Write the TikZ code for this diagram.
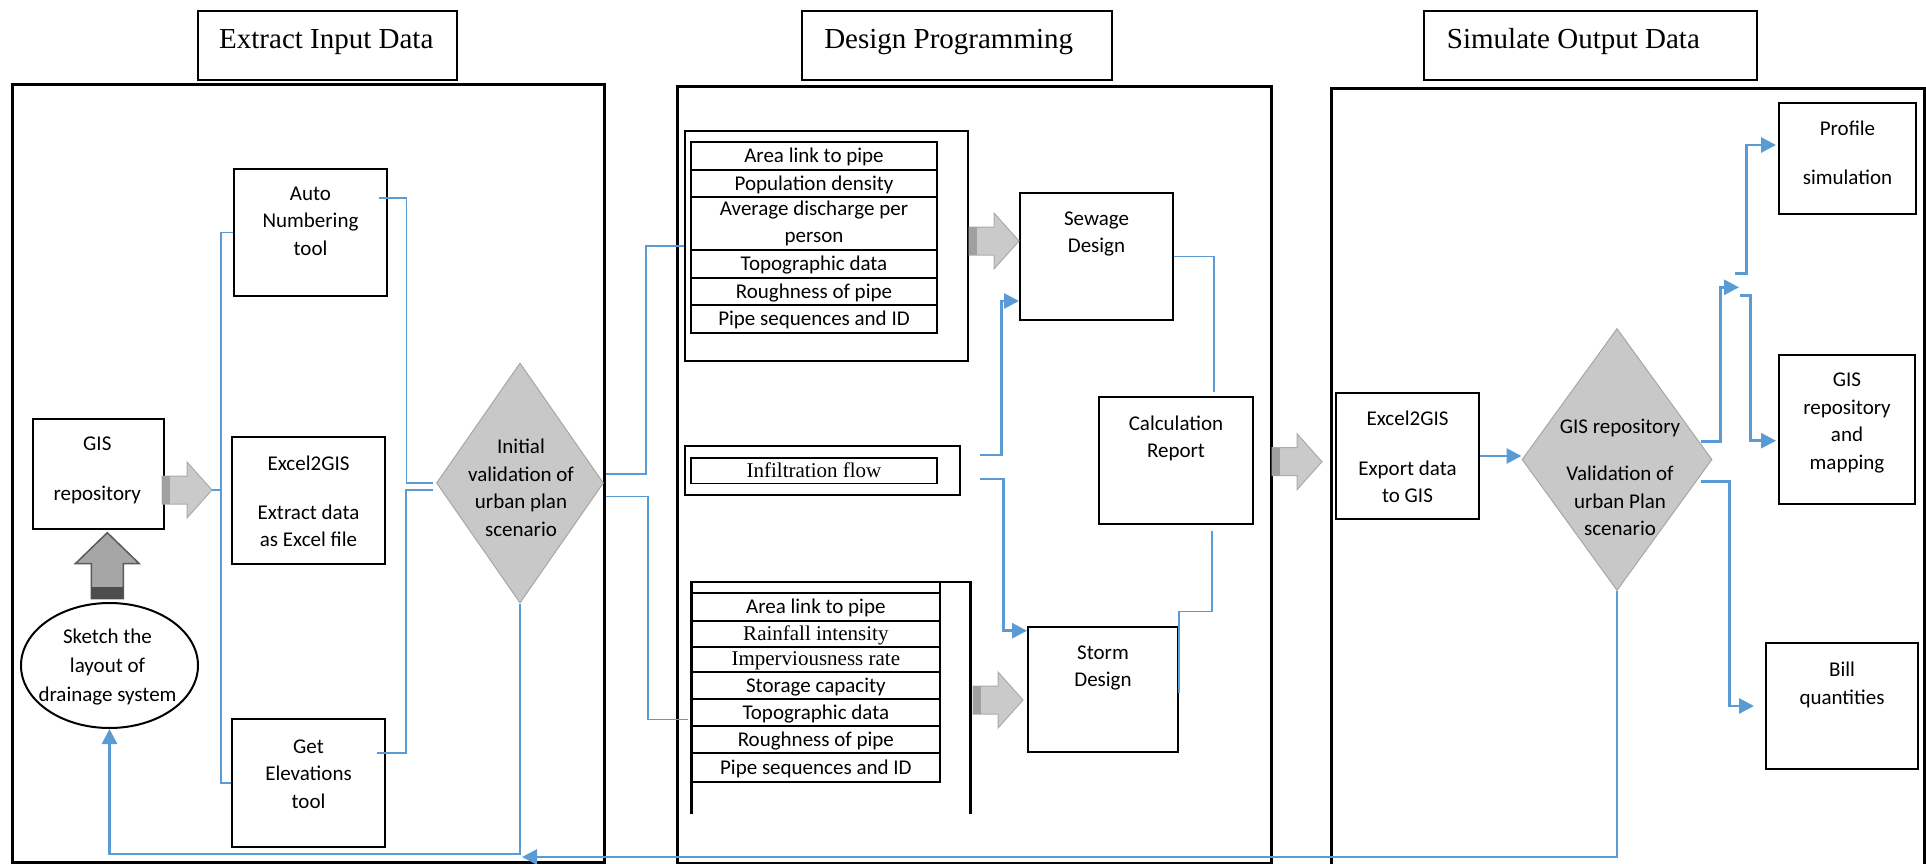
\documentclass[tikz,border=0pt]{standalone}
\usepackage{fontspec}
\setmainfont{Carlito}
\newfontfamily\tnr{Liberation Serif}
\usetikzlibrary{shapes.geometric,arrows.meta,positioning}

\definecolor{linkblue}{HTML}{5B9BD5}
\definecolor{diagrey}{HTML}{C8C8C8}
\definecolor{diaedge}{HTML}{A6A6A6}
\definecolor{blockgrey}{HTML}{CACACA}
\definecolor{blockedge}{HTML}{ABABAB}
\definecolor{stripgrey}{HTML}{A0A0A0}
\definecolor{upgrey}{HTML}{A6A6A6}
\definecolor{upedge}{HTML}{595959}
\definecolor{updark}{HTML}{4D4D4D}

\newcommand{\txtfont}{\fontsize{21}{27.5}\selectfont}
\newcommand{\hdfont}{\tnr\fontsize{29}{35}\selectfont}

\tikzset{
  panel/.style={draw, line width=3pt, inner sep=0pt},
  box/.style={draw, line width=2pt, inner sep=0pt},
  txt/.style={align=center, inner sep=0pt, anchor=north, font=\txtfont, execute at begin node=\strut},
  ttl/.style={inner sep=0pt, anchor=north, font=\hdfont, execute at begin node=\strut},
  cell/.style={draw, line width=2pt, inner sep=0pt, outer sep=0pt, align=center, font=\txtfont, text height=13.5pt, text depth=0pt, minimum height=#1},
  cell/.default=27.5,
  decide/.style={diamond, draw=diaedge, fill=diagrey, line width=1pt, inner sep=0pt},
  link/.style={draw=linkblue, line width=1.2pt},
  flow/.style={draw=linkblue, line width=2.8pt, -{Triangle[length=15pt,width=15pt]}},
  rblock/.pic={
    \path[fill=blockgrey, draw=blockedge, line width=1pt] (0,0) -- (-25,28) -- (-25,14) -- (-50,14) -- (-50,-14) -- (-25,-14) -- (-25,-28) -- cycle;
    \path[fill=stripgrey] (-50,-14) rectangle (-42.5,14);
  },
  ublock/.pic={
    \path[fill=upgrey, draw=upedge, line width=1.5pt] (0,0) -- (32,31) -- (16,31) -- (16,66) -- (-16,66) -- (-16,31) -- (-32,31) -- cycle;
    \path[fill=updark] (-16,54.5) rectangle (16,66);
  }
}

\begin{document}
\begin{tikzpicture}[x=1pt,y=-1pt]
\useasboundingbox (0,0) rectangle (1926,864);

\node[box, minimum width=259, minimum height=69] (title1) at (327.5,45.5) {};
\node[box, minimum width=310, minimum height=69] (title2) at (957,45.5) {};
\node[box, minimum width=333, minimum height=69] (title3) at (1590.5,45.5) {};
\node[ttl] (title1T) at ([shift={(-1.2,13.8)}]title1.north) {Extract Input Data};
\node[ttl] (title2T) at ([shift={(-8.3,13.8)}]title2.north) {Design Programming};
\node[ttl] (title3T) at ([shift={(-17.1,13.8)}]title3.north) {Simulate Output Data};

\node[panel, minimum width=592.5, minimum height=777] (p1) at (308.25,473.5) {};
\node[panel, minimum width=594, minimum height=776] (p2) at (974,475) {};
\node[panel, minimum width=593.5, minimum height=778] (p3) at (1627.75,478) {};

\node[box, minimum width=131, minimum height=110] (gis) at (98.5,474) {};
\node[txt] (gisT) at ([shift={(-1.2,18.5)}]gis.north) {GIS\\[22.5pt]repository};
\node[box, minimum width=153, minimum height=127] (autonum) at (310.5,232.5) {};
\node[txt] (autonumT) at ([shift={(0,18.5)}]autonum.north) {Auto\\Numbering\\tool};
\node[box, minimum width=153, minimum height=127] (excel1) at (308.5,500.5) {};
\node[txt] (excel1T) at ([shift={(0,19.5)}]excel1.north) {Excel2GIS\\[21.5pt]Extract data\\as Excel file};
\node[box, minimum width=153, minimum height=128] (getelev) at (308.5,783) {};
\node[txt] (getelevT) at ([shift={(0,21.5)}]getelev.north) {Get\\Elevations\\tool};
\node[draw, ellipse, line width=2pt, inner sep=0pt, minimum width=177, minimum height=125] (sketch) at (109.5,665.5) {};
\node[txt] (sketchT) at ([shift={(-2,26.5)}]sketch.north) {Sketch the\\[1.5pt]layout of\\[1.5pt]drainage system};
\node[decide, minimum width=167, minimum height=240] (val1) at (520,483) {};
\node[txt] (val1T) at ([shift={(1,76.5)}]val1.north) {Initial\\validation of\\urban plan\\scenario};

\node[box, line width=2.5pt, minimum width=283, minimum height=230] (sewtab) at (826.5,246) {};
\begin{scope}[every node/.append style={minimum width=246}]
\node[cell=28] (sr1) at (814,156) {Area link to pipe};
\node[cell=27, below=0pt of sr1] (sr2) {Population density};
\node[cell=53, below=0pt of sr2, text height=, text depth=] (sr3) {Average discharge per\\person};
\node[cell=28, below=0pt of sr3] (sr4) {Topographic data};
\node[cell=27, below=0pt of sr4] (sr5) {Roughness of pipe};
\node[cell=28, below=0pt of sr5] (sr6) {Pipe sequences and ID};
\end{scope}

\node[box, line width=2.5pt, minimum width=275, minimum height=49] (infilt) at (822.5,470.5) {};
\node[cell=25.5, minimum width=246, line width=1.5pt, font=\tnr\txtfont] (infiltT) at (814,470.5) {Infiltration flow};

\begin{scope}[every node/.append style={minimum width=248.3}]
\node[cell=11.3, text height=0pt] (st0) at (815.85,587.65) {};
\node[cell=27.4, below=0pt of st0] (st1) {Area link to pipe};
\node[cell=26, below=0pt of st1, font=\tnr\txtfont] (st2) {Rainfall intensity};
\node[cell=25, below=0pt of st2, font=\tnr\txtfont] (st3) {Imperviousness rate};
\node[cell=27.6, below=0pt of st3] (st4) {Storage capacity};
\node[cell=26.7, below=0pt of st4] (st5) {Topographic data};
\node[cell=27.3, below=0pt of st5] (st6) {Roughness of pipe};
\node[cell=28.4, below=0pt of st6] (st7) {Pipe sequences and ID};
\end{scope}
\draw[line width=2.5pt] ([shift={(0,232.3)}]st0.north west) -- (st0.north west) -- ++(278.8,0) -- ++(0,232.3);

\node[box, minimum width=153, minimum height=127] (sewage) at (1096.5,256.5) {};
\node[txt] (sewageT) at ([shift={(0,19.5)}]sewage.north) {Sewage\\Design};
\node[box, minimum width=154, minimum height=127] (calc) at (1176,460.5) {};
\node[txt] (calcT) at ([shift={(0,19.3)}]calc.north) {Calculation\\Report};
\node[box, minimum width=150, minimum height=125] (storm) at (1103,689.5) {};
\node[txt] (stormT) at ([shift={(0,19.5)}]storm.north) {Storm\\Design};

\node[box, minimum width=143, minimum height=126] (excel2) at (1407.5,456) {};
\node[txt] (excel2T) at ([shift={(0,18.3)}]excel2.north) {Excel2GIS\\[22.5pt]Export data\\to GIS};
\node[decide, minimum width=190, minimum height=262] (val2) at (1617,459.5) {};
\node[txt] (val2T) at ([shift={(3,91.2)}]val2.north) {GIS repository\\[19.5pt]Validation of\\urban Plan\\scenario};
\node[box, minimum width=137, minimum height=111] (profile) at (1847.5,158.5) {};
\node[txt] (profileT) at ([shift={(0,18.5)}]profile.north) {Profile\\[21.5pt]simulation};
\node[box, minimum width=136, minimum height=149] (gismap) at (1847,429.5) {};
\node[txt] (gismapT) at ([shift={(0,19)}]gismap.north) {GIS\\repository\\and\\mapping};
\node[box, minimum width=152, minimum height=126] (bill) at (1842,706) {};
\node[txt] (billT) at ([shift={(0,19.9)}]bill.north) {Bill\\quantities};

\coordinate (bus) at ([xshift=-12]autonum.west);
\coordinate (gistip) at ([shift={(47,16)}]gis.east);
\coordinate (loopA) at (477,854);
\coordinate (loopB) at (522,857);
\coordinate (splitP) at (1739,287.3);
\coordinate (splitA) at (1735,273.3);
\coordinate (splitB) at (1740,295.3);

\pic at ([shift={(8.8,2.7)}]gis.south) {ublock};
\pic at (gistip) {rblock};
\pic at ([shift={(0,-15.5)}]sewage.west) {rblock};
\pic at ([shift={(-4,10.5)}]storm.west) {rblock};
\pic at ([shift={(-7.5,-16.3)}]p3.west) {rblock};

\draw[link] (autonum.west) -- (bus) |- (getelev.west);
\draw[link] (gistip) -- (gistip -| bus);
\draw[link] ([shift={(-9,-34.5)}]autonum.east) -- ++(27.6,0) |- ([xshift=-3.4]val1.west);
\draw[link] ([shift={(-9,-30)}]getelev.east) -- ++(29,0) |- ([shift={(-3.4,7)}]val1.west);
\draw[link] ([shift={(2,-9)}]val1.east) -- ++(40,0) |- (sewtab.west);
\draw[link] ([shift={(2,13.7)}]val1.east) -- ++(42,0) |- ([shift={(-3.7,6.7)}]st5.west);
\draw[link] (val1.south) |- (loopA);
\draw[flow] (loopA) -| (sketch.south);
\draw[flow] (val2.south) |- (loopB);

\draw[flow] ([shift={(19,-15.5)}]infilt.east) -- ++(21,0) |- ([shift={(0,44.5)}]sewage.west);
\draw[flow] ([shift={(18.3,8.5)}]infilt.east) -- ++(24.3,0) |- ([shift={(0,-58.8)}]storm.west);
\draw[link] (sewage.east) -| ([shift={(38,-4)}]calc.north);
\draw[link] ([shift={(36,6)}]calc.south) |- ([shift={(0,-77.8)}]storm.east) -- ([shift={(0,3.5)}]storm.east);

\draw[flow] (excel2.east) -- (excel2.east -| val2.west);
\draw[flow] ([shift={(-12,-17.8)}]val2.east) -- ++(20,0) |- (splitP);
\draw[flow] (splitA) -- ++(11.8,0) |- ([shift={(-2,-13.5)}]profile.west);
\draw[flow] (splitB) -- ++(10.8,0) |- ([shift={(-2,11.2)}]gismap.west);
\draw[flow] ([shift={(-12,22.2)}]val2.east) -- ++(28.8,0) |- ([xshift=-11]bill.west);
\end{tikzpicture}
\end{document}
